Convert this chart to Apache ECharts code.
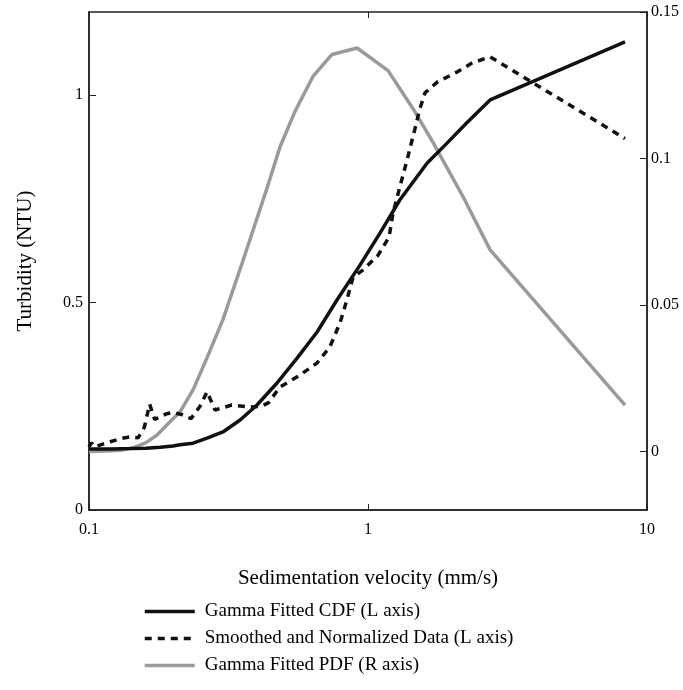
<!DOCTYPE html>
<html>
<head>
<meta charset="utf-8">
<script src="https://cdn.jsdelivr.net/npm/echarts@6/dist/echarts.min.js"></script>
<style>
html,body{margin:0;padding:0;background:#fff;}
#chart{width:683px;height:690px;}
</style>
</head>
<body>
<div id="chart"></div>
<script>
// Gamma fitted CDF (left axis)
const cdfX = [0.1, 0.12, 0.14, 0.16, 0.18, 0.2, 0.212, 0.236, 0.265, 0.302, 0.348, 0.4, 0.472, 0.557, 0.657, 0.774, 0.936, 1.104, 1.3, 1.63, 1.92, 2.26, 2.74, 8.34];
const cdfY = [0.147, 0.147, 0.148, 0.149, 0.151, 0.154, 0.157, 0.161, 0.173, 0.188, 0.217, 0.253, 0.306, 0.366, 0.429, 0.506, 0.59, 0.667, 0.747, 0.836, 0.884, 0.933, 0.988, 1.128];

// Smoothed and normalized data (left axis)
const dataX = [0.1, 0.102, 0.105, 0.11, 0.12, 0.13, 0.14, 0.15, 0.158, 0.165, 0.172, 0.18, 0.19, 0.2, 0.215, 0.232, 0.25, 0.265, 0.283, 0.325, 0.377, 0.415, 0.439, 0.483, 0.57, 0.656, 0.73, 0.794, 0.84, 0.884, 0.958, 1.087, 1.19, 1.23, 1.3, 1.38, 1.47, 1.53, 1.6, 1.77, 2.08, 2.36, 2.74, 8.34];
const dataY = [0.152, 0.162, 0.152, 0.157, 0.165, 0.172, 0.176, 0.174, 0.2, 0.255, 0.218, 0.225, 0.232, 0.235, 0.23, 0.22, 0.25, 0.285, 0.241, 0.253, 0.248, 0.25, 0.258, 0.296, 0.325, 0.354, 0.393, 0.451, 0.506, 0.561, 0.578, 0.614, 0.658, 0.716, 0.778, 0.843, 0.916, 0.964, 1.005, 1.031, 1.055, 1.077, 1.092, 0.895];

// Gamma fitted PDF (right axis)
const pdfX = [0.1, 0.115, 0.13, 0.145, 0.16, 0.175, 0.19, 0.212, 0.236, 0.265, 0.302, 0.356, 0.435, 0.484, 0.547, 0.635, 0.743, 0.914, 1.18, 1.45, 1.71, 2.19, 2.74, 8.34];
const pdfY = [0, 0.0001, 0.0004, 0.0013, 0.003, 0.0055, 0.009, 0.0135, 0.021, 0.032, 0.045, 0.065, 0.09, 0.104, 0.116, 0.128, 0.1355, 0.1377, 0.13, 0.117, 0.1055, 0.087, 0.0688, 0.0158];

const seriesNames = ['Gamma Fitted CDF (L axis)', 'Smoothed and Normalized Data (L axis)', 'Gamma Fitted PDF (R axis)'];
const xTickLabels = ['0.1', '1', '10'];

const zip = (xs, ys) => xs.map((x, i) => [x, ys[i]]);
const FONT = 'Liberation Serif';

const chart = echarts.init(document.getElementById('chart'), null, {renderer: 'canvas'});
chart.setOption({
  animation: false,
  backgroundColor: '#fff',
  textStyle: {fontFamily: FONT, color: '#000'},
  grid: {left: 89, right: 36, top: 12, bottom: 180, show: true, borderColor: '#222', borderWidth: 1.5, backgroundColor: 'transparent'},
  legend: {
    orient: 'vertical', left: 138, top: 597,
    itemWidth: 50, itemHeight: 18, itemGap: 8,
    itemStyle: {opacity: 0},
    lineStyle: {width: 3.5},
    textStyle: {fontFamily: FONT, fontSize: 19, color: '#000', padding: [0, 0, 0, 5]},
    data: seriesNames
  },
  xAxis: [{
    type: 'log', logBase: 10, min: 0.1, max: 10,
    name: 'Sedimentation velocity (mm/s)', nameLocation: 'middle', nameGap: 58,
    nameTextStyle: {fontFamily: FONT, fontSize: 21, color: '#000'},
    axisLine: {show: true, onZero: false, lineStyle: {color: '#222', width: 1.5}},
    axisTick: {show: true, inside: true, length: 6, lineStyle: {color: '#222'}},
    splitLine: {show: false},
    minorTick: {show: false},
    axisLabel: {fontFamily: FONT, fontSize: 16, color: '#000', margin: 12,
      formatter: v => { const s = String(+v.toPrecision(3)); return xTickLabels.includes(s) ? s : ''; }}
  }, {
    type: 'log', logBase: 10, min: 0.1, max: 10, position: 'top',
    axisLine: {show: false, onZero: false},
    axisTick: {show: true, inside: true, length: 6, lineStyle: {color: '#222'}},
    axisLabel: {show: false}, splitLine: {show: false}
  }],
  yAxis: [{
    type: 'value', min: 0, max: 1.2, interval: 0.5, position: 'left',
    name: 'Turbidity (NTU)', nameLocation: 'middle', nameGap: 53, nameRotate: 90,
    nameTextStyle: {fontFamily: FONT, fontSize: 21, color: '#000'},
    axisLine: {show: true, onZero: false, lineStyle: {color: '#222', width: 1.5}},
    axisTick: {show: true, inside: true, length: 7, lineStyle: {color: '#222'}},
    splitLine: {show: false},
    axisLabel: {fontFamily: FONT, fontSize: 16, color: '#000', margin: 6, showMaxLabel: false}
  }, {
    type: 'value', min: -0.02, max: 0.15, splitNumber: 3, position: 'right',
    axisLine: {show: true, onZero: false, lineStyle: {color: '#222', width: 1.5}},
    axisTick: {show: true, inside: true, length: 7, lineStyle: {color: '#222'}},
    splitLine: {show: false},
    axisLabel: {fontFamily: FONT, fontSize: 16, color: '#000', margin: 4, showMinLabel: false, showMaxLabel: true}
  }],
  series: [{
    name: seriesNames[0], type: 'line', xAxisIndex: 0, yAxisIndex: 0,
    data: zip(cdfX, cdfY), symbol: 'none', smooth: false,
    lineStyle: {color: '#111', width: 3.5}, itemStyle: {color: '#111'}, z: 3
  }, {
    name: seriesNames[1], type: 'line', xAxisIndex: 0, yAxisIndex: 0,
    data: zip(dataX, dataY), symbol: 'none', smooth: false,
    lineStyle: {color: '#111', width: 3.5, type: [7, 6]}, itemStyle: {color: '#111'}, z: 4
  }, {
    name: seriesNames[2], type: 'line', xAxisIndex: 0, yAxisIndex: 1,
    data: zip(pdfX, pdfY), symbol: 'none', smooth: false,
    lineStyle: {color: '#9a9a9a', width: 3.5}, itemStyle: {color: '#9a9a9a'}, z: 2
  }]
});
</script>
</body>
</html>
